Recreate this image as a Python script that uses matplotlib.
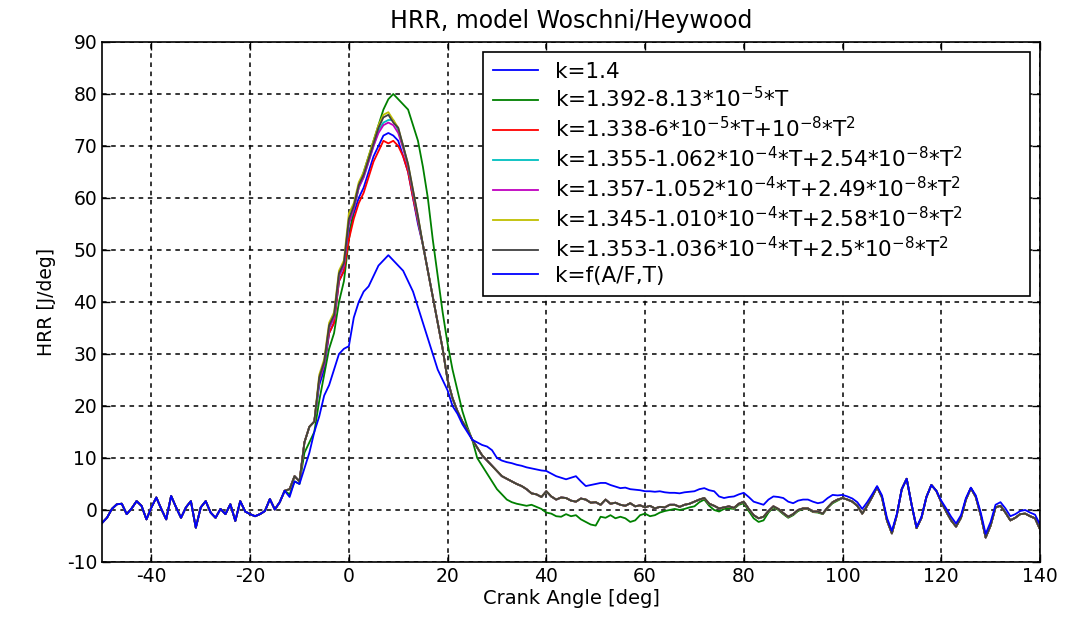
import numpy as np
import matplotlib
matplotlib.use("Agg")
import matplotlib.pyplot as plt

# ---------------- data ----------------
angle_pre = np.arange(-50, -12)     # -50 .. -13
angle_rise = np.arange(-12, -6)     # -12 .. -7
angle_peak = np.arange(-6, 15)      # -6 .. 14
angle_tail = np.arange(15, 100)     # 15 .. 99
angle_mid = np.arange(-12, 100)     # -12 .. 99
angle_end = np.arange(100, 141)     # 100 .. 140

hrr_pre_common = [-2.5, -1.5, 0.2, 1.1, 1.2, -0.8, 0.3, 1.7, 0.8, -1.8,
                  0.5, 2.4, 0.2, -1.8, 2.7, 0.5, -1.5, 0.5, 1.7, -3.4,
                  0.5, 1.7, -0.5, -1.5, 0.2, -0.8, 1.1, -2.1, 1.7, -0.3,
                  -0.8, -1.2, -0.8, -0.2, 2.1, 0.1, 1.5, 3.7]

hrr_main_rise = [4.0, 6.5, 5.5, 13, 16, 17]

peak_k14 = [24, 27, 34, 36, 44, 46, 53, 57, 60, 62, 65, 68, 70, 72, 72.5, 72, 71, 68, 65, 60, 55]
peak_red = [25, 28, 34, 36, 44, 46, 52, 56, 59, 61, 64, 67, 69, 71, 70.5, 71, 70, 68, 65, 60, 55.5]
peak_cyan = [25, 28, 35, 37, 45, 47, 55, 58, 62, 64, 67, 70, 73, 74.5, 75, 75, 73, 70, 66, 61, 56]
peak_magenta = [25, 28, 35, 37, 45, 47, 55, 58, 62, 64, 67, 70, 72.5, 74, 74.5, 74, 72.5, 69.5, 66, 61, 56]
peak_yellow = [26, 29, 36, 38, 46, 48, 57, 59, 63, 65, 68, 71, 74, 76, 76.5, 75, 73.5, 70, 66.5, 61.5, 56.5]
peak_gray = [25.5, 28.5, 35.5, 37.5, 45.5, 47.5, 56, 58.5, 62.5, 64.5, 67.5, 70.5, 73.5, 75.5, 76, 74.5, 73.5, 70, 66.5, 61.5, 56.5]

hrr_main_tail = [51, 46, 41, 36, 31, 25, 21.5, 19, 17, 15.5,
                 13.5, 12, 10.5, 9.5, 8.5, 7.5, 6.5, 6, 5.5, 5,
                 4.6, 4.0, 3.2, 3.0, 2.5, 3.6, 2.6, 2.0, 2.4, 2.3,
                 1.8, 1.6, 2.2, 2.0, 1.4, 1.5, 1.0, 2.0, 1.2, 1.4,
                 1.0, 0.8, 1.3, 0.7, 0.9, 0.5, 0.8, 0.3, 0.6, 0.5,
                 1.0, 1.0, 0.6, 1.0, 1.2, 1.6, 2.0, 2.3, 1.2, 0.8,
                 0.3, 0.5, 0.7, 0.4, 1.2, 1.6, 0.2, -1.0, -1.6, -1.3,
                 -0.2, 0.7, 0.2, -0.6, -1.3, -0.8, 0.0, 0.3, 0.3, -0.3,
                 -0.3, -0.7, 0.5, 1.5, 2.0]

hrr_green_mid = [3.0, 5.5, 5.0, 11, 13, 15, 21, 26, 31, 34,
                 40, 44, 52, 58, 62, 65, 68, 71, 74, 77,
                 79, 80, 79, 78, 77, 74, 71, 66, 60, 52,
                 45, 38, 32, 27, 23, 19, 16, 13.5, 10, 8.5,
                 7, 5.5, 4, 3, 2, 1.5, 1.2, 1.0, 0.8, 1.0,
                 0.6, 0.2, -0.5, -0.7, -1.2, -1.3, -0.8, -1.2, -1.0, -1.8,
                 -2.3, -2.8, -3.0, -1.3, -1.5, -1.0, -1.6, -1.3, -1.6, -2.3,
                 -2.0, -1.0, -0.7, -1.2, -1.0, -0.5, -0.2, 0.0, 0.2, 0.0,
                 0.2, 0.5, 0.7, 1.5, 2.0, 0.8, 0.0, -0.3, 0.2, 0.3,
                 0.2, 1.0, 1.3, -0.2, -1.6, -2.3, -2.0, -0.5, 0.5, 0.0,
                 -0.8, -1.5, -1.0, -0.2, 0.2, 0.2, -0.4, -0.5, -0.8, 0.4,
                 1.3, 1.8]

hrr_af_mid = [2.5, 5.5, 5, 8, 11, 15, 18, 22, 24, 27,
              30, 31, 31.5, 37, 40, 42, 43, 45, 47, 48,
              49, 48, 47, 46, 44, 42, 39, 36, 33, 30,
              27, 25, 23, 20, 18.5, 16.5, 15, 13.5, 13, 12.5,
              12.2, 11.5, 10, 9.5, 9.2, 9.0, 8.7, 8.5, 8.2, 8.0,
              7.8, 7.6, 7.5, 7.0, 6.5, 6.2, 5.9, 6.2, 6.5, 5.5,
              4.6, 4.8, 5.0, 5.2, 5.2, 4.8, 4.5, 4.2, 4.3, 4.0,
              3.9, 3.8, 3.6, 3.6, 3.5, 3.6, 3.4, 3.3, 3.3, 3.2,
              3.4, 3.5, 3.6, 4.0, 4.2, 3.8, 3.6, 2.6, 2.3, 2.5,
              2.6, 3.0, 3.3, 2.5, 1.6, 1.3, 1.0, 2.0, 2.6, 2.5,
              2.3, 1.6, 1.3, 1.8, 2.0, 2.0, 1.6, 1.3, 1.5, 2.3,
              2.9, 2.8]

hrr_end_common = [2.3, 2.0, 1.6, 0.8, -0.7, 0.8, 2.5, 4.4, 2.4, -2.0,
                  -4.5, -1.0, 4.0, 6.0, 1.0, -3.5, -1.5, 2.5, 4.8, 3.7,
                  1.5, -0.3, -2.0, -3.2, -1.5, 2.0, 4.2, 2.5, -1.0, -5.3,
                  -3.0, 0.5, 0.8, -0.5, -2.0, -1.5, -0.8, -0.7, -1.2, -1.6,
                  -3.7]

hrr_end_af = [2.9, 2.6, 2.2, 1.5, 0.2, 1.5, 3.0, 4.6, 2.8, -1.5,
              -4.0, -0.8, 4.0, 6.0, 1.0, -3.3, -1.3, 2.5, 4.8, 3.7,
              1.8, 0.3, -1.3, -2.6, -1.0, 2.3, 4.3, 2.8, -0.5, -4.6,
              -2.3, 1.0, 1.5, 0.3, -1.2, -0.8, -0.2, 0.0, -0.5, -0.9,
              -2.8]

labels = [
    r"k=1.4",
    r"k=1.392-8.13*10$^{-5}$*T",
    r"k=1.338-6*10$^{-5}$*T+10$^{-8}$*T$^{2}$",
    r"k=1.355-1.062*10$^{-4}$*T+2.54*10$^{-8}$*T$^{2}$",
    r"k=1.357-1.052*10$^{-4}$*T+2.49*10$^{-8}$*T$^{2}$",
    r"k=1.345-1.010*10$^{-4}$*T+2.58*10$^{-8}$*T$^{2}$",
    r"k=1.353-1.036*10$^{-4}$*T+2.5*10$^{-8}$*T$^{2}$",
    r"k=f(A/F,T)",
]
colors = ["#0000ff", "#008000", "#ff0000", "#00bfbf", "#bf00bf", "#bfbf00", "#404040", "#0000ff"]

# ---------------- assemble curves ----------------
angle_full = np.concatenate([angle_pre, angle_rise, angle_peak, angle_tail, angle_end])
angle_full2 = np.concatenate([angle_pre, angle_mid, angle_end])

def quad_curve(peak):
    return np.concatenate([hrr_pre_common, hrr_main_rise, peak, hrr_main_tail, hrr_end_common])

curves = [
    (angle_full, quad_curve(peak_k14)),
    (angle_full2, np.concatenate([hrr_pre_common, hrr_green_mid, hrr_end_common])),
    (angle_full, quad_curve(peak_red)),
    (angle_full, quad_curve(peak_cyan)),
    (angle_full, quad_curve(peak_magenta)),
    (angle_full, quad_curve(peak_yellow)),
    (angle_full, quad_curve(peak_gray)),
    (angle_full2, np.concatenate([hrr_pre_common, hrr_af_mid, hrr_end_af])),
]

# ---------------- plot ----------------
plt.rcParams["font.family"] = ["DejaVu Sans"]
plt.rcParams["axes.unicode_minus"] = False
fig = plt.figure(figsize=(10.65, 6.22), dpi=100)
ax = fig.add_axes([0.0958, 0.0965, 0.8807, 0.836])

for (x, y), c, lab in zip(curves, colors, labels):
    ax.plot(x, y, color=c, lw=1.3, label=lab)

ax.set_xlim(-50, 140)
ax.set_ylim(-10, 90)
ax.set_xticks(np.arange(-40, 141, 20))
ax.set_yticks(np.arange(-10, 91, 10))
ax.grid(True, color="black", linestyle=(0, (3, 3)), linewidth=1.1)
ax.tick_params(direction="in", top=True, right=True, length=6, labelsize=13.5, width=1)
for s in ax.spines.values():
    s.set_linewidth(1.2)

ax.set_title("HRR, model Woschni/Heywood", fontsize=17, pad=10)
ax.set_xlabel("Crank Angle [deg]", fontsize=14, labelpad=2)
ax.set_ylabel("HRR [J/deg]", fontsize=13.5, labelpad=8)

leg = ax.legend(loc="upper left", bbox_to_anchor=(0.406, 0.523, 0.583, 0.458),
                mode="expand", borderaxespad=0,
                fontsize=15.5, frameon=True, fancybox=False, framealpha=1,
                edgecolor="black", handlelength=2.1, labelspacing=0.22,
                handletextpad=0.8, borderpad=0.45)
leg.get_frame().set_linewidth(1.2)

fig.savefig("out.png", dpi=100)
